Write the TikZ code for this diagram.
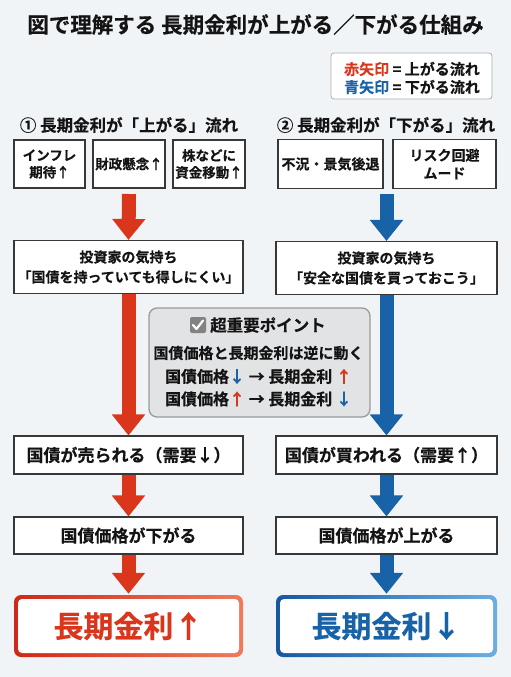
\documentclass[tikz,border=0pt]{standalone}
\usepackage{fontspec}
\setmainfont{Noto Sans CJK JP}[BoldFont={Noto Sans CJK JP Bold},BoldFeatures={FakeBold=0.35}]
\usetikzlibrary{arrows.meta}
\definecolor{bg}{HTML}{F1F4F7}
\definecolor{cred}{HTML}{D9361C}
\definecolor{credl}{HTML}{F07A5C}
\definecolor{credd}{HTML}{D0281A}
\definecolor{cblue}{HTML}{1862A8}
\definecolor{cbluel}{HTML}{6AAEE2}
\definecolor{cblued}{HTML}{1558A0}
\definecolor{ink}{HTML}{141414}
\definecolor{midfill}{HTML}{E2E3E5}
\definecolor{midline}{HTML}{9A9A9A}
\begin{document}
\begin{tikzpicture}[x=1pt,y=-1pt,
  box/.style={draw=ink!85, line width=1.1pt, fill=white, inner sep=0pt, align=center, text=ink,
    font=\bfseries\fontsize{13.5}{17}\selectfont},
  bigbox/.style={box, font=\bfseries\fontsize{14}{20}\selectfont},
  stepbox/.style={box, font=\bfseries\fontsize{17}{20}\selectfont},
  lbl/.style={inner sep=0pt, text=ink, align=center},
  redarrow/.style={draw=cred, line width=14pt, -{Triangle[width=32pt,length=21pt]}},
  bluearrow/.style={draw=cblue, line width=14pt, -{Triangle[width=32pt,length=21pt]}},
  finalbox/.style={inner sep=0pt, fill=white, rounded corners=4pt, minimum height=54pt,
    font=\bfseries\fontsize{30}{34}\selectfont}
]
\useasboundingbox (0,0) rectangle (511,677);
\fill[bg] (0,0) rectangle (511,677);

% title
\node[lbl, font=\bfseries\fontsize{21.5}{24}\selectfont] (title) at (255.5,24.5) {図で理解する 長期金利が上がる／下がる仕組み};

% legend
\node[draw=midline!80, line width=0.8pt, fill=white, rounded corners=3pt, minimum width=161pt, minimum height=46pt, inner sep=0pt] (legend) at (411.5,76) {};
\node[lbl, font=\bfseries\fontsize{15}{17}\selectfont] (leg1) at (412,69) {{\color{cred}赤矢印} = 上がる流れ};
\node[lbl, font=\bfseries\fontsize{15}{17}\selectfont] (leg2) at (412,87) {{\color{cblue}青矢印} = 下がる流れ};

% headings
\node[lbl, font=\bfseries\fontsize{16.5}{20}\selectfont] (hL) at (129,125) {① 長期金利が「上がる」流れ};
\node[lbl, font=\bfseries\fontsize{16.5}{20}\selectfont] (hR) at (386,125) {② 長期金利が「下がる」流れ};

% cause boxes
\node[box, minimum width=71pt, minimum height=48pt] (c1) at (49.5,164) {インフレ\\期待↑};
\node[box, minimum width=72pt, minimum height=48pt] (c2) at (129,164) {財政懸念↑};
\node[box, minimum width=72pt, minimum height=48pt] (c3) at (209,164) {株などに\\資金移動↑};
\node[box, minimum width=105pt, minimum height=49pt, font=\bfseries\fontsize{14}{18}\selectfont] (c4) at (330.5,164) {不況・景気後退};
\node[box, minimum width=103pt, minimum height=49pt, font=\bfseries\fontsize{14}{18}\selectfont] (c5) at (444.5,164) {リスク回避\\ムード};

% investor boxes
\node[bigbox, minimum width=229pt, minimum height=53pt] (invL) at (128.5,267) {投資家の気持ち\\「国債を持っていても得しにくい」};
\node[bigbox, minimum width=221pt, minimum height=53pt] (invR) at (386.5,268) {投資家の気持ち\\「安全な国債を買っておこう」};

% sell / buy boxes
\node[stepbox, minimum width=229pt, minimum height=38pt] (sellL) at (128.5,455) {国債が売られる（需要↓）};
\node[stepbox, minimum width=221pt, minimum height=38pt] (buyR) at (386.5,455) {国債が買われる（需要↑）};

% price boxes
\node[stepbox, minimum width=229pt, minimum height=37pt] (priceL) at (128.5,535.5) {国債価格が下がる};
\node[stepbox, minimum width=221pt, minimum height=37pt] (priceR) at (386.5,535.5) {国債価格が上がる};

% final boxes
\shade[left color=credd, right color=credl, rounded corners=7pt] (14,595) rectangle (243,657);
\node[finalbox, minimum width=221pt, text=cred] (finL) at (128.5,626) {長期金利↑};
\shade[left color=cblued, right color=cbluel, rounded corners=7pt] (276,595) rectangle (497,657);
\node[finalbox, minimum width=213pt, text=cblue] (finR) at (386.5,626) {長期金利↓};

% arrows
\coordinate (topL) at (129,194);
\coordinate (topR) at (386.5,194);
\draw[redarrow] (topL) -- (invL.north);
\draw[bluearrow] (topR) -- (invR.north);
\draw[redarrow] (invL.south) -- (sellL.north);
\draw[bluearrow] (invR.south) -- (buyR.north);
\draw[redarrow] (sellL.south) -- (priceL.north);
\draw[bluearrow] (buyR.south) -- (priceR.north);
\draw[redarrow] (priceL.south) -- ([yshift=5pt]finL.north);
\draw[bluearrow] (priceR.south) -- ([yshift=5pt]finR.north);

% key point box
\node[draw=midline, line width=1.3pt, fill=midfill, rounded corners=8pt, minimum width=221pt, minimum height=109pt, inner sep=0pt] (mid) at (259.5,362.5) {};
\node[fill=midline!85!black, rounded corners=2pt, minimum width=16pt, minimum height=16pt, inner sep=0pt] (chk) at (198,325) {};
\draw[white, line width=2.2pt, line cap=round, line join=round] ([xshift=-5pt,yshift=0pt]chk.center) -- ([xshift=-1.5pt,yshift=-4pt]chk.center) -- ([xshift=5pt,yshift=4.5pt]chk.center);
\node[lbl, font=\bfseries\fontsize{16.5}{20}\selectfont, anchor=west] (kp) at (210,325) {超重要ポイント};
\node[lbl, font=\bfseries\fontsize{15}{18}\selectfont] (kp1) at (258.5,353) {国債価格と長期金利は逆に動く};
\node[lbl, font=\bfseries\fontsize{16}{20}\selectfont] (kp2) at (258.5,376.5) {国債価格{\color{cblue}↓} → 長期金利 {\color{cred}↑}};
\node[lbl, font=\bfseries\fontsize{16}{20}\selectfont] (kp3) at (258.5,399) {国債価格{\color{cred}↑} → 長期金利 {\color{cblue}↓}};
\end{tikzpicture}
\end{document}
